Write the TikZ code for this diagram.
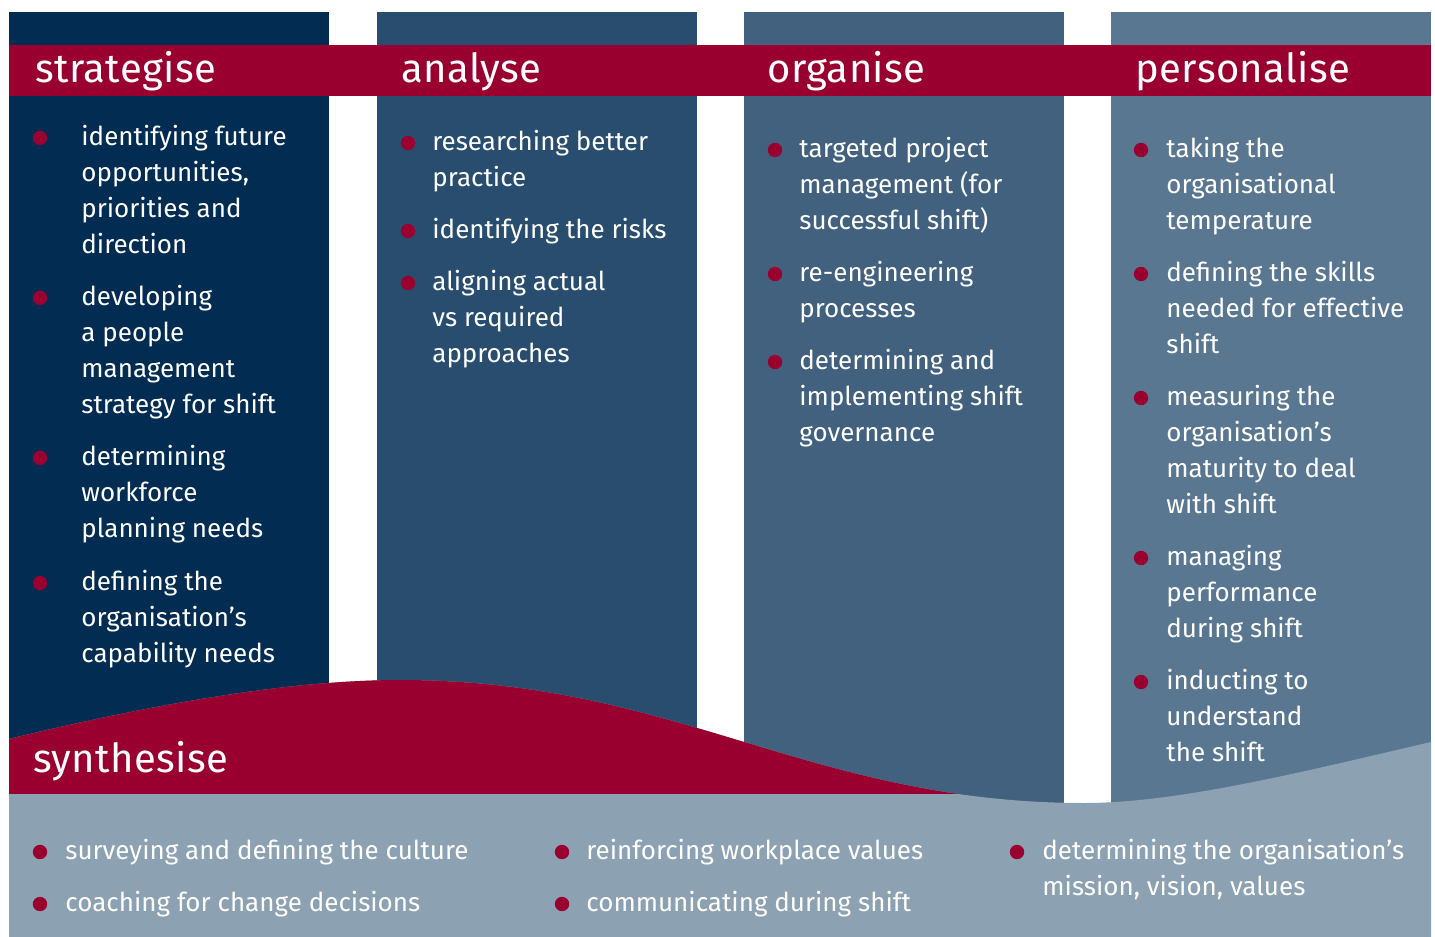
\documentclass[tikz,border=0pt]{standalone}
\usepackage{fontspec}
\setmainfont{Fira Sans}
\newfontfamily\headfont[LetterSpace=1]{Fira Sans}
\begin{document}
\begin{tikzpicture}[x=0.5pt,y=-0.5pt,
  colA/.style={fill={rgb,255:red,2;green,44;blue,82}},
  colB/.style={fill={rgb,255:red,40;green,77;blue,110}},
  colC/.style={fill={rgb,255:red,65;green,97;blue,126}},
  colD/.style={fill={rgb,255:red,90;green,119;blue,146}},
  heading/.style={anchor=base west,inner sep=0pt,text=white,font=\headfont\fontsize{20}{24}\selectfont},
  item/.style={anchor=base west,inner sep=0pt,align=left,text=white,font=\fontsize{13}{18}\selectfont},
  dot/.style={circle,inner sep=0pt,minimum size=7.2pt,fill=accent},
]
\definecolor{accent}{RGB}{153,0,48}
\definecolor{mist}{RGB}{140,161,178}
\def\wave{(9,739) .. controls (170,700) and (300,680) .. (400,680)
  .. controls (676,680) and (809,803) .. (1085,803)
  .. controls (1180,803) and (1310,770) .. (1431,742)}
% canvas
\fill[white] (0,0) rectangle (1435,937);
% four columns
\fill[colA] (9,12) rectangle (329,810);
\fill[colB] (377,12) rectangle (697,810);
\fill[colC] (744,12) rectangle (1064,820);
\fill[colD] (1111,12) rectangle (1431,820);
% heading band
\fill[accent] (9,45) rectangle (1431,96);
% lower band under the wave
\fill[mist] \wave -- (1431,937) -- (9,937) -- cycle;
% red crest of the wave, cut off at the top of the lower band
\begin{scope}
  \clip (9,0) rectangle (1000,793);
  \fill[accent] \wave -- (1431,937) -- (9,937) -- cycle;
\end{scope}
% headings
\node[heading] (hA) at (35,82) {strategise};
\node[heading] (hB) at (401,82) {analyse};
\node[heading] (hC) at (767,82) {organise};
\node[heading] (hD) at (1135,82) {personalise};
\node[heading] (hE) at (33,772) {synthesise};
% items are anchored at the baseline of their last line (18pt = 36 units per line)
% strategise
\node[dot] (dA1) at (40,138) {};
\node[item] (tA1) at (81,253) {identifying future\\opportunities,\\priorities and\\direction};
\node[dot] (dA2) at (40,298) {};
\node[item] (tA2) at (81,413) {developing\\a people\\management\\strategy for shift};
\node[dot] (dA3) at (40,458) {};
\node[item] (tA3) at (81,537) {determining\\workforce\\planning needs};
\node[dot] (dA4) at (40,583) {};
\node[item] (tA4) at (81,662) {defining the\\organisation’s\\capability needs};
% analyse
\node[dot] (dB1) at (408,143) {};
\node[item] (tB1) at (432,186) {researching better\\practice};
\node[dot] (dB2) at (408,231) {};
\node[item] (tB2) at (432,238) {identifying the risks};
\node[dot] (dB3) at (408,283) {};
\node[item] (tB3) at (432,362) {aligning actual\\vs required\\approaches};
% organise
\node[dot] (dC1) at (775,150) {};
\node[item] (tC1) at (799,229) {targeted project\\management (for\\successful shift)};
\node[dot] (dC2) at (775,274) {};
\node[item] (tC2) at (799,317) {re-engineering\\processes};
\node[dot] (dC3) at (775,362) {};
\node[item] (tC3) at (799,441) {determining and\\implementing shift\\governance};
% personalise
\node[dot] (dD1) at (1141,150) {};
\node[item] (tD1) at (1166,229) {taking the\\organisational\\temperature};
\node[dot] (dD2) at (1141,274) {};
\node[item] (tD2) at (1166,353) {defining the skills\\needed for effective\\shift};
\node[dot] (dD3) at (1141,398) {};
\node[item] (tD3) at (1166,513) {measuring the\\organisation’s\\maturity to deal\\with shift};
\node[dot] (dD4) at (1141,558) {};
\node[item] (tD4) at (1166,637) {managing\\performance\\during shift};
\node[dot] (dD5) at (1141,682) {};
\node[item] (tD5) at (1166,761) {inducting to\\understand\\the shift};
% synthesise
\node[dot] (dE1) at (40,852) {};
\node[item] (tE1) at (65,859) {surveying and defining the culture};
\node[dot] (dE2) at (40,904) {};
\node[item] (tE2) at (65,911) {coaching for change decisions};
\node[dot] (dE3) at (562,852) {};
\node[item] (tE3) at (586,859) {reinforcing workplace values};
\node[dot] (dE4) at (562,904) {};
\node[item] (tE4) at (586,911) {communicating during shift};
\node[dot] (dE5) at (1017,852) {};
\node[item] (tE5) at (1042,895) {determining the organisation’s\\mission, vision, values};
\end{tikzpicture}
\end{document}
